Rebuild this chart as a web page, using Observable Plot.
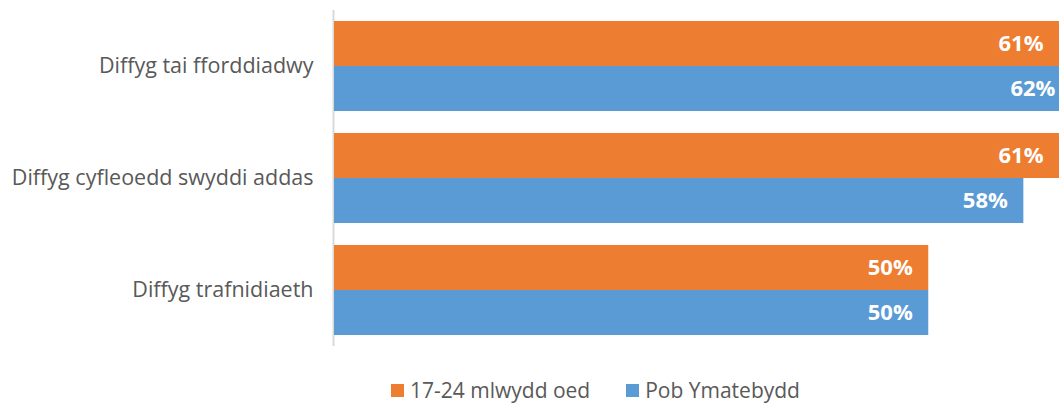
<!DOCTYPE html>
<html><head><meta charset="utf-8">
<script src="https://cdn.jsdelivr.net/npm/d3@7"></script>
<script src="https://cdn.jsdelivr.net/npm/@observablehq/plot@0.6"></script>
<style>
body{margin:0;background:#fff;font-family:"Open Sans",sans-serif;}
#wrap{position:relative;width:1059px;height:407px;overflow:hidden;}
#legend{position:absolute;top:379px;left:391px;display:flex;align-items:center;font-size:21px;line-height:22px;color:#595959;white-space:nowrap;}
#legend .sw{display:inline-block;width:13px;height:13px;margin-right:6px;}
#legend .item{display:flex;align-items:center;margin-right:36px;line-height:22px;}
</style>
</head><body><div id="wrap"><div id="chart"></div><div id="legend"></div></div>
<script>
const categories = ["Diffyg tai fforddiadwy", "Diffyg cyfleoedd swyddi addas", "Diffyg trafnidiaeth"];
const seriesNames = ["17-24 mlwydd oed", "Pob Ymatebydd"];
const youngValues = [61, 61, 50];
const allValues = [62, 58, 50];
const colors = ["#ED7D31", "#5B9BD5"];

const data = categories.flatMap((c, i) => [
  {category: c, series: seriesNames[0], value: youngValues[i]},
  {category: c, series: seriesNames[1], value: allValues[i]}
]);

const plot = Plot.plot({
  width: 1059, height: 360,
  marginLeft: 334, marginRight: 0, marginTop: 10, marginBottom: 14,
  style: {fontFamily: "'Open Sans', sans-serif", background: "#fff"},
  x: {domain: [0, 61], axis: null},
  fy: {domain: categories, padding: 0, axis: null, label: null},
  y: {domain: seriesNames, paddingInner: 0, paddingOuter: 0.2308, axis: null},
  color: {domain: seriesNames, range: colors},
  marks: [
    Plot.ruleX([0], {stroke: "#d9d9d9", strokeWidth: 2, dx: -1}),
    Plot.barX(data, {fy: "category", y: "series", x: "value", fill: "series"}),
    Plot.text(data, {fy: "category", y: "series", x: "value", text: d => d.value + "%", textAnchor: "end", dx: -16, fill: "white", fontWeight: "bold", fontSize: 22}),
    Plot.axisFy({anchor: "left", tickSize: 0, tickPadding: 21, fontSize: 21.5, fill: "#595959", label: null})
  ]
});
document.getElementById("chart").appendChild(plot);

const legend = document.getElementById("legend");
seriesNames.forEach((s, i) => {
  const item = document.createElement("span");
  item.className = "item";
  const sw = document.createElement("span");
  sw.className = "sw";
  sw.style.background = colors[i];
  item.appendChild(sw);
  item.appendChild(document.createTextNode(s));
  legend.appendChild(item);
});
</script>
</body></html>
